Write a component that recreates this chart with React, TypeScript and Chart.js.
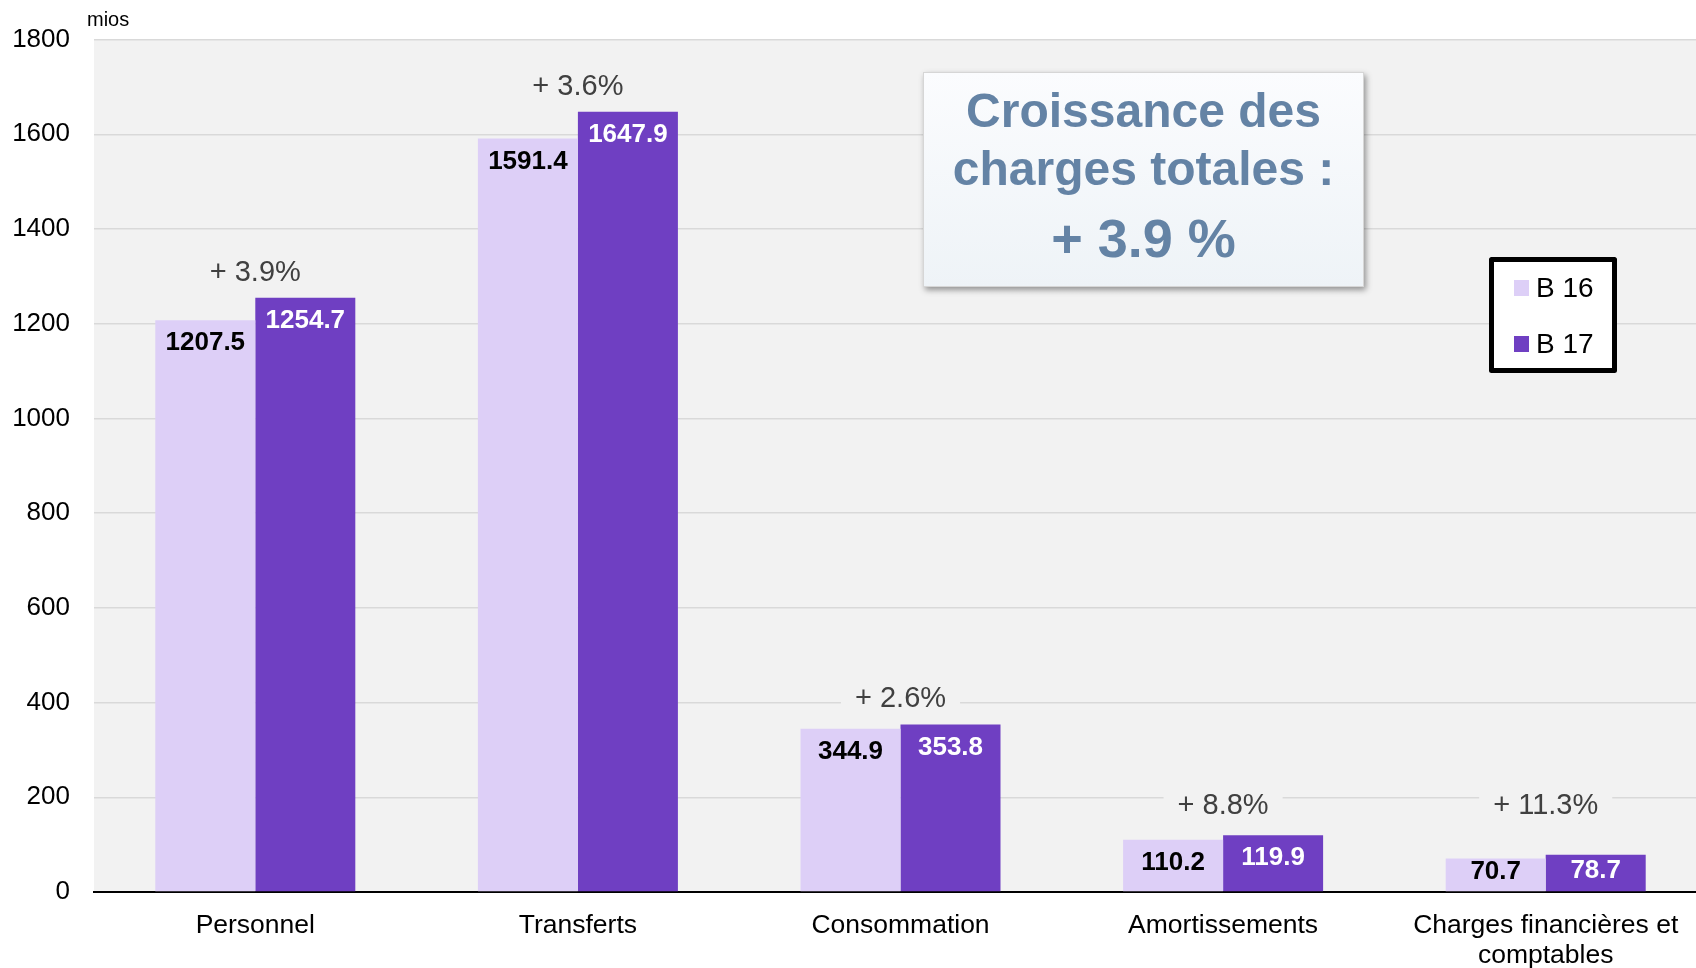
import React, { useEffect, useRef } from "react";
import { Chart, registerables } from "chart.js";

Chart.register(...registerables);

const categories: (string | string[])[] = [
  "Personnel",
  "Transferts",
  "Consommation",
  "Amortissements",
  ["Charges financières et", "comptables"],
];
const seriesNames = ["B 16", "B 17"];
const b16 = [1207.5, 1591.4, 344.9, 110.2, 70.7];
const b17 = [1254.7, 1647.9, 353.8, 119.9, 78.7];
const growthLabels = ["+ 3.9%", "+ 3.6%", "+ 2.6%", "+ 8.8%", "+ 11.3%"];
const titleLines = ["Croissance des", "charges totales :", "+ 3.9 %"];
const unitLabel = "mios";
const yMin = 0;
const yMax = 1800;
const yStep = 200;

const FONT = '"Liberation Sans", Arial, Helvetica, sans-serif';
const COLORS = ["#ddcff7", "#6f3fc2"];
const PLOT_BG = "#f2f2f2";

const bgPlugin = {
  id: "plotBg",
  beforeDraw(chart: any) {
    const { ctx, chartArea: a } = chart;
    ctx.save();
    ctx.fillStyle = "#ffffff";
    ctx.fillRect(0, 0, chart.width, chart.height);
    ctx.fillStyle = PLOT_BG;
    ctx.fillRect(a.left, a.top, a.right - a.left, a.bottom - a.top);
    ctx.restore();
  },
};

const labelPlugin = {
  id: "labels",
  afterDatasetsDraw(chart: any) {
    const { ctx } = chart;
    const zero = chart.scales.y.getPixelForValue(0);
    const metas = [chart.getDatasetMeta(0), chart.getDatasetMeta(1)];
    const vals = [b16, b17];
    ctx.save();
    ctx.textAlign = "center";
    ctx.textBaseline = "middle";
    metas.forEach((meta: any, di: number) => {
      meta.data.forEach((bar: any, i: number) => {
        const top = bar.y;
        const h = zero - top;
        const off = Math.min(23, h / 2 - 3);
        ctx.font = `bold 26px ${FONT}`;
        ctx.fillStyle = di === 0 ? "#000000" : "#ffffff";
        ctx.fillText(vals[di][i].toFixed(1), bar.x, top + off);
      });
    });
    // growth labels
    ctx.font = `29px ${FONT}`;
    growthLabels.forEach((txt, i) => {
      const x = (metas[0].data[i].x + metas[1].data[i].x) / 2;
      const y = Math.min(metas[1].data[i].y - 26, zero - 87);
      const w = ctx.measureText(txt).width + 28;
      ctx.fillStyle = PLOT_BG;
      ctx.fillRect(x - w / 2, y - 16, w, 32);
      ctx.fillStyle = "#404040";
      ctx.fillText(txt, x, y + 1);
    });
    ctx.restore();
  },
  afterDraw(chart: any) {
    const { ctx } = chart;
    ctx.save();
    // unit label
    ctx.font = `20px ${FONT}`;
    ctx.fillStyle = "#000";
    ctx.textAlign = "left";
    ctx.textBaseline = "middle";
    ctx.fillText(unitLabel, 87, 20);

    // title box
    const bx = 923, by = 72, bw = 441, bh = 215;
    ctx.save();
    ctx.shadowColor = "rgba(0,0,0,0.4)";
    ctx.shadowBlur = 6;
    ctx.shadowOffsetX = 2;
    ctx.shadowOffsetY = 3;
    const g = ctx.createLinearGradient(0, by, 0, by + bh);
    g.addColorStop(0, "#fbfcfe");
    g.addColorStop(1, "#eef3f7");
    ctx.fillStyle = g;
    ctx.fillRect(bx, by, bw, bh);
    ctx.restore();
    ctx.strokeStyle = "#d6d6d6";
    ctx.lineWidth = 1;
    ctx.strokeRect(bx + 0.5, by + 0.5, bw - 1, bh - 1);
    ctx.fillStyle = "#6483a5";
    ctx.textAlign = "center";
    const cx = bx + bw / 2;
    ctx.font = `bold 48px ${FONT}`;
    ctx.fillText(titleLines[0], cx, 114);
    ctx.fillText(titleLines[1], cx, 172);
    ctx.font = `bold 54px ${FONT}`;
    ctx.fillText(titleLines[2], cx, 242);

    // legend
    const lx = 1489, ly = 257, lw = 128, lh = 116;
    ctx.fillStyle = "#ffffff";
    ctx.fillRect(lx, ly, lw, lh);
    ctx.strokeStyle = "#000";
    ctx.lineWidth = 5;
    ctx.lineJoin = "round";
    ctx.strokeRect(lx + 2.5, ly + 2.5, lw - 5, lh - 5);
    ctx.textAlign = "left";
    ctx.font = `28px ${FONT}`;
    seriesNames.forEach((name, i) => {
      const cy = 288 + i * 56;
      ctx.fillStyle = COLORS[i];
      ctx.fillRect(1514, cy - 8, 15, 16);
      ctx.fillStyle = "#000";
      ctx.fillText(name, 1536, cy + 1);
    });
    ctx.restore();
  },
};

export default function App() {
  const ref = useRef<HTMLCanvasElement | null>(null);
  useEffect(() => {
    if (!ref.current) return;
    const chart = new Chart(ref.current, {
      type: "bar",
      data: {
        labels: categories as any,
        datasets: [
          {
            label: seriesNames[0],
            data: b16,
            backgroundColor: COLORS[0],
            categoryPercentage: 0.62,
            barPercentage: 1,
          },
          {
            label: seriesNames[1],
            data: b17,
            backgroundColor: COLORS[1],
            categoryPercentage: 0.62,
            barPercentage: 1,
          },
        ],
      },
      options: {
        responsive: false,
        animation: false,
        devicePixelRatio: 1,
        layout: { padding: { top: 32, left: 0, right: 0, bottom: 0 } },
        plugins: { legend: { display: false }, tooltip: { enabled: false } },
        scales: {
          x: {
            grid: { display: false, drawTicks: false },
            border: { display: true, color: "#000", width: 2 },
            ticks: {
              color: "#000",
              font: { family: FONT, size: 26.5, lineHeight: 1.15 },
              padding: 18,
              maxRotation: 0,
              autoSkip: false,
            },
            afterFit(s: any) {
              s.height = 76;
            },
          },
          y: {
            min: yMin,
            max: yMax,
            ticks: {
              stepSize: yStep,
              color: "#000",
              font: { family: FONT, size: 26 },
              padding: 24,
              callback: (v: any) => String(v),
            },
            grid: { color: "#d9d9d9", lineWidth: 1.5, drawTicks: false },
            border: { display: false },
            afterFit(s: any) {
              s.width = 94;
            },
          },
        },
      },
      plugins: [bgPlugin, labelPlugin],
    });
    return () => chart.destroy();
  }, []);
  return (
    <div
      style={{
        position: "fixed",
        left: 0,
        top: 0,
        width: 1696,
        height: 968,
        overflow: "hidden",
        background: "#fff",
      }}
    >
      <canvas ref={ref} width={1707} height={968} style={{ display: "block" }} />
    </div>
  );
}
